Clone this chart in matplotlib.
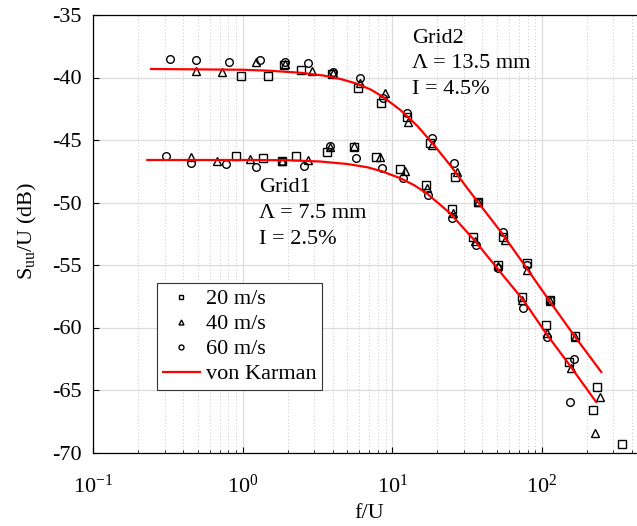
import matplotlib
matplotlib.use("Agg")
import matplotlib.pyplot as plt
from matplotlib.lines import Line2D

plt.rcParams["font.family"] = ["Liberation Serif", "DejaVu Serif"]
plt.rcParams["mathtext.fontset"] = "custom"
plt.rcParams["mathtext.rm"] = "Liberation Serif"
plt.rcParams["mathtext.it"] = "Liberation Serif:italic"
plt.rcParams["axes.unicode_minus"] = False

# Grid1 measurements (f/U, dB)
g1_20_f = [0.905, 1.364, 1.837, 2.27, 3.67, 5.54, 7.71, 11.24, 16.9, 24.9, 34.8, 51.0, 73.1, 106.4, 151.4, 220.3, 341.0]
g1_20_s = [-46.28, -46.46, -46.68, -46.3, -45.98, -45.52, -46.36, -47.34, -48.6, -50.5, -52.78, -55.0, -57.54, -59.8, -62.74, -66.6, -69.34]
g1_40_f = [0.449, 0.675, 1.117, 1.837, 2.71, 3.83, 5.54, 8.32, 12.14, 17.0, 25.4, 35.6, 51.0, 73.6, 108.3, 156.2, 226.0]
g1_40_s = [-46.34, -46.66, -46.52, -46.66, -46.56, -45.56, -45.48, -46.32, -47.44, -48.84, -50.86, -53.08, -55.08, -57.8, -60.46, -63.26, -68.42]
g1_60_f = [0.307, 0.450, 0.769, 1.225, 1.837, 2.58, 3.83, 5.71, 8.48, 11.83, 17.3, 24.9, 36.2, 51.0, 74.6, 107.9, 163.6]
g1_60_s = [-46.28, -46.86, -46.92, -47.16, -46.68, -47.06, -45.5, -46.4, -47.22, -48.06, -49.36, -51.2, -53.4, -55.24, -58.44, -60.78, -62.5]

# Grid2 measurements
g2_20_f = [0.973, 1.466, 1.893, 2.44, 3.93, 5.89, 8.34, 12.46, 17.8, 26.2, 37.5, 54.8, 79.0, 113.0, 166.3, 234.4]
g2_20_s = [-39.86, -39.86, -39.0, -39.4, -39.74, -40.86, -42.06, -43.16, -45.26, -47.92, -49.94, -52.74, -54.86, -57.8, -60.68, -64.78]
g2_40_f = [0.484, 0.726, 1.22, 1.915, 2.89, 4.03, 6.07, 8.92, 12.77, 18.3, 26.9, 37.5, 56.6, 79.0, 113.0, 166.3, 244.2]
g2_40_s = [-39.46, -39.58, -38.74, -38.92, -39.44, -39.64, -40.46, -41.26, -43.54, -45.4, -47.54, -49.96, -53.0, -55.4, -57.88, -60.76, -65.54]
g2_60_f = [0.326, 0.486, 0.809, 1.313, 1.915, 2.74, 4.03, 6.03, 8.69, 12.46, 18.3, 26.0, 37.5, 55.1, 79.0, 113.0, 153.8]
g2_60_s = [-38.52, -38.58, -38.76, -38.56, -38.72, -38.86, -39.52, -40.06, -41.66, -42.86, -44.86, -46.8, -49.94, -52.34, -55.0, -57.8, -65.96]

# von Karman fits
vk1_f = [0.230, 1.12, 2.0, 3.29, 5.0, 6.79, 8.5, 11.3, 14.0, 17.1, 24.3, 35.7, 52.6, 74.9, 108.3, 154.5, 230.0]
vk1_s = [-46.6, -46.6, -46.62, -46.72, -46.92, -47.18, -47.5, -48.06, -48.62, -49.3, -50.86, -53.08, -55.56, -57.8, -60.6, -63.08, -65.96]
vk2_f = [0.244, 1.0, 1.52, 2.42, 3.45, 4.5, 5.82, 7.2, 8.68, 11.3, 14.7, 18.7, 24.3, 31.6, 38.6, 52.6, 74.9, 113.5, 166.7, 249.0]
vk2_s = [-39.32, -39.38, -39.46, -39.62, -39.84, -40.12, -40.5, -40.98, -41.56, -42.6, -43.88, -45.32, -47.0, -48.84, -50.2, -52.28, -54.86, -57.96, -60.76, -63.56]

W, H = 637, 526
fig = plt.figure(figsize=(W / 100, H / 100), dpi=100)
ax = fig.add_axes([93.2 / W, (H - 452.5) / H, 598.4 / W, 437.5 / H])

mk = dict(linestyle="none", mfc="none", mec="black", mew=1.0, ms=5.5)
for f, s in [(g1_20_f, g1_20_s), (g2_20_f, g2_20_s)]:
    ax.plot(f, s, marker="s", **mk)
for f, s in [(g1_40_f, g1_40_s), (g2_40_f, g2_40_s)]:
    ax.plot(f, s, marker="^", **mk)
for f, s in [(g1_60_f, g1_60_s), (g2_60_f, g2_60_s)]:
    ax.plot(f, s, marker="o", **mk)
ax.plot(vk1_f, vk1_s, color="red", lw=1.6)
ax.plot(vk2_f, vk2_s, color="red", lw=1.6)

ax.set_xscale("log")
ax.set_xlim(0.1, 1000)
ax.set_ylim(-70, -35)
ax.set_yticks(range(-70, -34, 5))
ax.set_xticks([0.1, 1, 10, 100])
ax.set_xticklabels([r"$10^{-1}$", r"$10^{0}$", r"$10^{1}$", r"$10^{2}$"])

ax.grid(True, which="major", color="#dcdcdc", lw=0.9, ls="-")
ax.grid(True, which="minor", axis="x", color="#b4b4b4", lw=0.6, ls=(0, (1, 3)))
ax.set_axisbelow(True)
ax.tick_params(which="both", direction="in", labelsize=16, color="black")
ax.tick_params(which="major", length=4, pad=8)
ax.tick_params(which="minor", length=2)
ax.tick_params(axis="x", pad=16)
ax.spines["right"].set_visible(False)
for sp in ["left", "bottom", "top"]:
    ax.spines[sp].set_linewidth(0.9)

ax.set_xlabel("f/U", fontsize=16)
ax.set_ylabel(r"S$_{\rm uu}$/U (dB)", fontsize=16)
ax.xaxis.set_label_coords(0.461, -0.118)
ax.yaxis.set_label_coords(-0.09, 0.506)

for txt, y in [("Grid2", -36.84), ("\u039b = 13.5 mm", -38.92), ("I = 4.5%", -41.0)]:
    ax.text(13.5, y, txt, fontsize=16, va="center", ha="left")
for txt, y in [("Grid1", -48.76), ("\u039b = 7.5 mm", -50.84), ("I = 2.5%", -52.92)]:
    ax.text(1.28, y, txt, fontsize=16, va="center", ha="left")

handles = [
    Line2D([], [], marker="s", **mk),
    Line2D([], [], marker="^", **mk),
    Line2D([], [], marker="o", **mk),
    Line2D([], [], color="red", lw=1.6),
]
leg = ax.legend(handles, ["20 m/s", "40 m/s", "60 m/s", "von Karman"],
                loc="lower left", bbox_to_anchor=(0.1066, 0.1429), borderaxespad=0,
                fontsize=16, markerscale=0.65, handlelength=1.7, handletextpad=0.25,
                borderpad=0.25, labelspacing=0.2, fancybox=False, framealpha=1)
leg.get_frame().set_edgecolor("#333333")
leg.get_frame().set_linewidth(0.8)

fig.savefig("out.png", dpi=100)
